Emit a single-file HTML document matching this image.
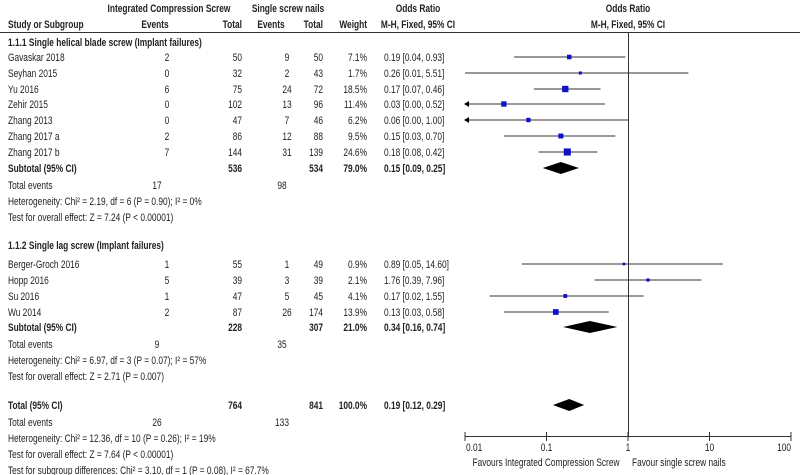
<!DOCTYPE html>
<html><head><meta charset="utf-8"><style>
html,body{margin:0;padding:0;background:#fff;width:800px;height:475px;overflow:hidden}
svg text{font-family:"Liberation Sans",Arial,sans-serif;font-size:11px;fill:#222}
</style></head><body>
<svg id="s" width="800" height="475" xmlns="http://www.w3.org/2000/svg"></svg>
<script>
const s=document.getElementById('s');let h='';
const SX=0.76;
function t(x,y,str,anc,b){h+=`<text transform="translate(${x},${y}) scale(${SX},1)" text-anchor="${anc||'start'}"${b?' font-weight="bold"':''}>${str}</text>`;}
const X=v=>628+81.5*Math.log10(v);
// headers
t(169,12,'Integrated Compression Screw','middle',1);
t(288,12,'Single screw nails','middle',1);
t(418,12,'Odds Ratio','middle',1);
t(628,12,'Odds Ratio','middle',1);
t(8,28,'Study or Subgroup','start',1);
t(155,28,'Events','middle',1);
t(242,28,'Total','end',1);
t(271,28,'Events','middle',1);
t(323,28,'Total','end',1);
t(367,28,'Weight','end',1);
t(418,28,'M-H, Fixed, 95% CI','middle',1);
t(628,28,'M-H, Fixed, 95% CI','middle',1);
h+='<line x1="0" y1="32.5" x2="800" y2="32.5" stroke="#333"/>';
h+='<line x1="628.5" y1="33" x2="628.5" y2="436" stroke="#333"/>';
t(8,46,'1.1.1 Single helical blade screw (Implant failures)','start',1);
const rows1=[['Gavaskar 2018',2,50,9,50,7.1,0.19,0.04,0.93],['Seyhan  2015',0,32,2,43,1.7,0.26,0.01,5.51],['Yu 2016',6,75,24,72,18.5,0.17,0.07,0.46],['Zehir 2015',0,102,13,96,11.4,0.03,0.00,0.52],['Zhang 2013',0,47,7,46,6.2,0.06,0.00,1.00],['Zhang 2017 a',2,86,12,88,9.5,0.15,0.03,0.70],['Zhang 2017 b',7,144,31,139,24.6,0.18,0.08,0.42]];
const rows2=[['Berger-Groch  2016',1,55,1,49,0.9,0.89,0.05,14.60],['Hopp 2016',5,39,3,39,2.1,1.76,0.39,7.96],['Su  2016',1,47,5,45,4.1,0.17,0.02,1.55],['Wu  2014',2,87,26,174,13.9,0.13,0.03,0.58]];
function f(v){return v.toFixed(2)}
function row(r,y){
 t(8,y+4,r[0]);t(167,y+4,r[1],'middle');t(242,y+4,r[2],'end');t(287,y+4,r[3],'middle');t(323,y+4,r[4],'end');t(367,y+4,r[5].toFixed(1)+'%','end');
 t(384,y+4,`${f(r[6])} [${f(r[7])}, ${f(r[8])}]`);
 let lo=r[7]<0.01?465:X(r[7]),hi=Math.min(X(r[8]),791);
 h+=`<line x1="${lo}" y1="${y}" x2="${hi}" y2="${y}" stroke="#333"/>`;
 if(r[7]<0.01)h+=`<polygon points="${lo-1},${y} ${lo+4},${y-3} ${lo+4},${y+3}" fill="#000"/>`;
 const sz=1.6+Math.sqrt(r[5])*1.1,c=X(r[6]);
 h+=`<rect x="${c-sz/2}" y="${y-sz/2}" width="${sz}" height="${sz}" fill="#1010c8"/>`;
}
function dia(y,e,l,u){h+=`<polygon points="${X(l)},${y} ${X(e)},${y-6} ${X(u)},${y} ${X(e)},${y+6}" fill="#000"/>`;}
let ys=[57,73,89,104,120,136,152];rows1.forEach((r,i)=>row(r,ys[i]));
t(8,172,'Subtotal (95% CI)','start',1);t(242,172,'536','end',1);t(323,172,'534','end',1);t(367,172,'79.0%','end',1);t(384,172,'0.15 [0.09, 0.25]','start',1);dia(168,0.15,0.09,0.25);
t(8,189,'Total events');t(157,189,'17','middle');t(282,189,'98','middle');
t(8,205,'Heterogeneity: Chi² = 2.19, df = 6 (P = 0.90); I² = 0%');
t(8,221,'Test for overall effect: Z = 7.24 (P &lt; 0.00001)');
t(8,249,'1.1.2 Single lag screw (Implant failures)','start',1);
ys=[264,280,296,312];rows2.forEach((r,i)=>row(r,ys[i]));
t(8,331,'Subtotal (95% CI)','start',1);t(242,331,'228','end',1);t(323,331,'307','end',1);t(367,331,'21.0%','end',1);t(384,331,'0.34 [0.16, 0.74]','start',1);dia(327,0.34,0.16,0.74);
t(8,348,'Total events');t(157,348,'9','middle');t(282,348,'35','middle');
t(8,364,'Heterogeneity: Chi² = 6.97, df = 3 (P = 0.07); I² = 57%');
t(8,380,'Test for overall effect: Z = 2.71 (P = 0.007)');
t(8,409,'Total (95% CI)','start',1);t(242,409,'764','end',1);t(323,409,'841','end',1);t(367,409,'100.0%','end',1);t(384,409,'0.19 [0.12, 0.29]','start',1);dia(405,0.19,0.12,0.29);
t(8,426,'Total events');t(157,426,'26','middle');t(282,426,'133','middle');
t(8,442,'Heterogeneity: Chi² = 12.36, df = 10 (P = 0.26); I² = 19%');
t(8,458,'Test for overall effect: Z = 7.64 (P &lt; 0.00001)');
t(8,474,'Test for subgroup differences: Chi² = 3.10, df = 1 (P = 0.08), I² = 67.7%');
// axis
h+='<line x1="465" y1="436.5" x2="791" y2="436.5" stroke="#333"/>';
[[0.01,'0.01'],[0.1,'0.1'],[1,'1'],[10,'10'],[100,'100']].forEach(([v,l],i)=>{const x=X(v);h+=`<line x1="${x}" y1="432" x2="${x}" y2="441" stroke="#333"/>`;t(i==0?466:(i==4?791:x),451,l,i==0?'start':(i==4?'end':'middle'));});
t(546,466,'Favours Integrated Compression Screw','middle');
t(632,466,'Favour single screw nails','start');
s.innerHTML=h;
</script>
</body></html>
